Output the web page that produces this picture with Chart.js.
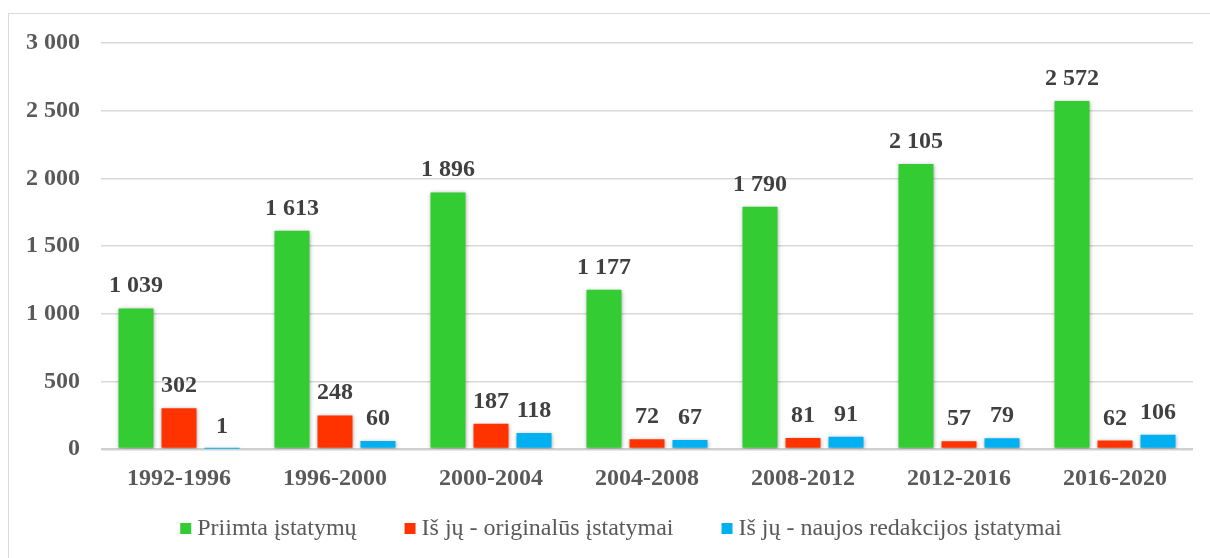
<!DOCTYPE html>
<html>
<head>
<meta charset="utf-8">
<script src="https://cdn.jsdelivr.net/npm/chart.js@4"></script>
<style>
  html, body { margin: 0; padding: 0; background: #fff; }
  #wrap { position: relative; width: 1210px; height: 558px; overflow: hidden; }
  #frame { position: absolute; left: 8px; top: 13px; width: 1220px; height: 580px; border: 1px solid #d9d9d9; box-sizing: border-box; pointer-events: none; }
  canvas { position: absolute; left: 0; top: 0; }
</style>
</head>
<body>
<div id="wrap">
  <canvas id="c" width="1210" height="558"></canvas>
  <div id="frame"></div>
</div>
<script>
const categories = ['1992-1996', '1996-2000', '2000-2004', '2004-2008', '2008-2012', '2012-2016', '2016-2020'];
const priimta = [1039, 1613, 1896, 1177, 1790, 2105, 2572];
const originalus = [302, 248, 187, 72, 81, 57, 62];
const naujos = [1, 60, 118, 67, 91, 79, 106];
const seriesNames = ['Priimta įstatymų', 'Iš jų - originalūs įstatymai', 'Iš jų - naujos redakcijos įstatymai'];
const seriesColors = ['#33CC33', '#FF3300', '#00B0F0'];
const yTicks = [0, 500, 1000, 1500, 2000, 2500, 3000];

const SERIF = '"Liberation Serif", "Times New Roman", serif';

function fmt(v) { return String(v).replace(/\B(?=(\d{3})+(?!\d))/g, ' '); }

const shadowPlugin = {
  id: 'shadow',
  beforeDatasetsDraw(chart) {
    const ctx = chart.ctx;
    ctx.save();
    ctx.shadowColor = 'rgba(0,0,0,0.35)';
    ctx.shadowBlur = 4;
    ctx.shadowOffsetX = 0.5;
    ctx.shadowOffsetY = 1;
  },
  afterDatasetsDraw(chart) {
    chart.ctx.restore();
  }
};

const labelPlugin = {
  id: 'valueLabels',
  afterDatasetsDraw(chart) {
    const ctx = chart.ctx;
    ctx.save();
    ctx.font = 'bold 24px ' + SERIF;
    ctx.fillStyle = '#404040';
    ctx.textAlign = 'center';
    ctx.textBaseline = 'alphabetic';
    chart.data.datasets.forEach((ds, di) => {
      const meta = chart.getDatasetMeta(di);
      meta.data.forEach((bar, i) => {
        ctx.fillText(fmt(ds.data[i]), bar.x, bar.y - 16);
      });
    });
    ctx.restore();
  }
};

const legendPlugin = {
  id: 'customLegend',
  afterDraw(chart) {
    const ctx = chart.ctx;
    ctx.save();
    ctx.font = '24px ' + SERIF;
    ctx.textBaseline = 'alphabetic';
    ctx.textAlign = 'left';
    const box = 11, gapBox = 6, gapItem = 48;
    const widths = chart.data.datasets.map(ds => ctx.measureText(ds.label).width);
    let total = widths.reduce((a, b) => a + b, 0) + chart.data.datasets.length * (box + gapBox) + (chart.data.datasets.length - 1) * gapItem;
    let x = 621 - total / 2;
    const baseline = 535;
    chart.data.datasets.forEach((ds, i) => {
      ctx.fillStyle = ds.backgroundColor;
      ctx.fillRect(x, 523, box, box);
      x += box + gapBox;
      ctx.fillStyle = '#595959';
      ctx.fillText(ds.label, x, baseline);
      x += widths[i] + gapItem;
    });
    ctx.restore();
  }
};

new Chart(document.getElementById('c'), {
  type: 'bar',
  data: {
    labels: categories,
    datasets: [
      { label: seriesNames[0], data: priimta, backgroundColor: seriesColors[0] },
      { label: seriesNames[1], data: originalus, backgroundColor: seriesColors[1] },
      { label: seriesNames[2], data: naujos, backgroundColor: seriesColors[2] }
    ]
  },
  options: {
    responsive: false,
    animation: false,
    devicePixelRatio: 1,
    layout: { padding: { left: 0, right: 17, top: 43, bottom: 49 } },
    datasets: { bar: { categoryPercentage: 0.827, barPercentage: 0.814 } },
    plugins: {
      tooltip: { enabled: false },
      legend: { display: false }
    },
    scales: {
      x: {
        afterFit(scale) { scale.height = 60; },
        grid: { display: false, drawTicks: false },
        border: { display: false },
        ticks: {
          font: { family: SERIF, size: 24, weight: 'bold' },
          color: '#595959',
          padding: 15
        }
      },
      y: {
        min: 0,
        max: 3000,
        afterBuildTicks(scale) { scale.ticks = yTicks.map(v => ({ value: v })); },
        afterFit(scale) { scale.width = 101; },
        grid: {
          color: ctx => ctx.tick && ctx.tick.value === 0 ? '#d0d0d0' : '#d9d9d9',
          lineWidth: ctx => ctx.tick && ctx.tick.value === 0 ? 2.5 : 1.5,
          drawTicks: false
        },
        border: { display: false },
        ticks: {
          font: { family: SERIF, size: 24, weight: 'bold' },
          color: '#595959',
          padding: 21,
          callback: v => fmt(v)
        }
      }
    }
  },
  plugins: [shadowPlugin, labelPlugin, legendPlugin]
});
</script>
</body>
</html>
